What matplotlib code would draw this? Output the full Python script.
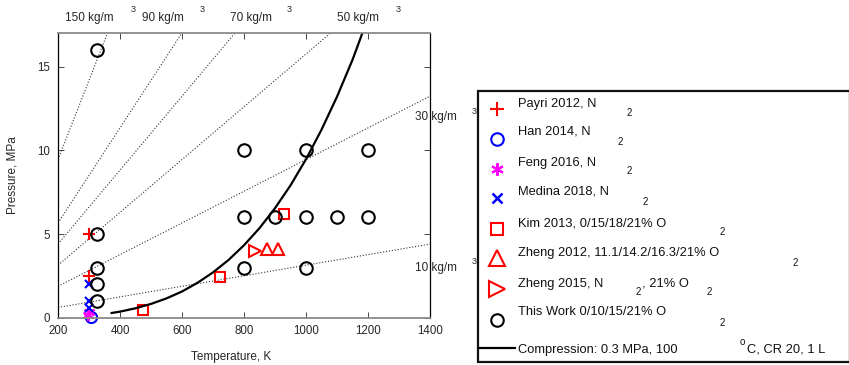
import matplotlib
matplotlib.use("Agg")
import matplotlib.pyplot as plt
from matplotlib.patches import Rectangle

plt.rcParams['font.family'] = ['Liberation Sans', 'DejaVu Sans']

# --- data ---
payri_T = [300, 300]
payri_P = [5.0, 2.5]
han_T = [305]
han_P = [0.05]
feng_T = [298, 300]
feng_P = [0.15, 0.35]
medina_T = [300, 300, 300]
medina_P = [2.0, 1.0, 0.6]
kim_T = [475, 723, 928]
kim_P = [0.5, 2.45, 6.2]
zheng12_T = [873, 910]
zheng12_P = [4.1, 4.1]
zheng15_T = [835]
zheng15_P = [4.0]
work_T = [325, 325, 325, 325, 325, 800, 1000, 1200, 800, 900, 1000, 1100, 1200, 800, 1000]
work_P = [16, 5, 3, 2, 1, 10, 10, 10, 6, 6, 6, 6, 6, 3, 3]

# compression trace (0.3 MPa, 100 C start)
comp_T = [373, 400, 450, 500, 550, 600, 650, 700, 750, 800, 850, 900,
          950, 1000, 1050, 1100, 1150, 1200]
comp_P = [0.30, 0.38, 0.58, 0.84, 1.17, 1.58, 2.10, 2.72, 3.46, 4.34, 5.36, 6.55,
          7.91, 9.47, 11.23, 13.2, 15.4, 17.9]

# iso-density lines, kg/m3
densities = [150, 90, 70, 50, 30, 10]
R_GAS = 0.315e-3  # MPa m3 / (kg K), fitted
T_range = [200, 1400]

W, H = 849, 365
fig = plt.figure(figsize=(W / 100, H / 100), dpi=100)
ax = fig.add_axes([58 / W, 1 - 318 / H, 372 / W, 285 / H])

for rho in densities:
    ax.plot(T_range, [rho * R_GAS * t for t in T_range], ls=':', color='#333333', lw=0.8, zorder=1)

mew = 1.5
ax.plot(payri_T, payri_P, ls='none', marker='+', ms=9, mew=mew, color='red', clip_on=False)
ax.plot(han_T, han_P, ls='none', marker='o', ms=8, mew=mew, mfc='none', mec='blue', clip_on=False)
ax.plot(feng_T, feng_P, ls='none', marker=(6, 2, 0), ms=8, mew=mew, color='magenta', clip_on=False)
ax.plot(medina_T, medina_P, ls='none', marker='x', ms=6, mew=mew, color='blue', clip_on=False)
ax.plot(kim_T, kim_P, ls='none', marker='s', ms=7, mew=mew, mfc='none', mec='red', clip_on=False)
ax.plot(zheng12_T, zheng12_P, ls='none', marker='^', ms=9, mew=mew, mfc='none', mec='red', clip_on=False)
ax.plot(zheng15_T, zheng15_P, ls='none', marker='>', ms=9, mew=mew, mfc='none', mec='red', clip_on=False)
ax.plot(work_T, work_P, ls='none', marker='o', ms=9, mew=mew, mfc='none', mec='black', clip_on=False)
ax.plot(comp_T, comp_P, color='black', lw=1.6)

ax.set_xlim(200, 1400)
ax.set_ylim(0, 17)
ax.set_xticks([200, 400, 600, 800, 1000, 1200, 1400])
ax.set_yticks([0, 5, 10, 15])
ax.tick_params(direction='in', length=4, width=0.6, labelsize=8.3, colors='#262626',
               top=True, right=True)
ax.tick_params(axis='x', pad=5)
ax.tick_params(axis='y', pad=6)
for side in ['left', 'right']:
    ax.spines[side].set_color('black')
    ax.spines[side].set_linewidth(0.9)
for side in ['top', 'bottom']:
    ax.spines[side].set_color('#8a8a8a')
    ax.spines[side].set_linewidth(1.3)
ax.set_xlabel('Temperature, K', fontsize=8.5, color='#262626')
ax.set_ylabel('Pressure, MPa', fontsize=8.5, color='#262626')
ax.xaxis.set_label_coords(0.465, -0.115)
ax.yaxis.set_label_coords(-0.105, 0.5)

# overlay in pixel units for free text and the legend panel
ov = fig.add_axes([0, 0, 1, 1])
ov.set_xlim(0, W)
ov.set_ylim(H, 0)
ov.axis('off')

# density annotations: (text, x, y, superscript x, superscript y)
dens_labels = [
    ('150 kg/m', 89, 18, 133, 10),
    ('90 kg/m', 163, 18, 202, 10),
    ('70 kg/m', 251, 18, 289, 10),
    ('50 kg/m', 358, 18, 398, 10),
]
for txt, x, y, sx, sy in dens_labels:
    ov.text(x, y, txt, ha='center', va='center', fontsize=8.5, color='#262626')
    ov.text(sx, sy, '3', ha='center', va='center', fontsize=6.5, color='#262626')
for txt, y in [('30 kg/m', 117), ('10 kg/m', 268)]:
    ov.text(415, y, txt, ha='left', va='center', fontsize=8.5, color='#262626')
    ov.text(474, y - 6, '3', ha='center', va='center', fontsize=6.5, color='#262626')

# legend panel
ov.add_patch(Rectangle((478, 91), 372, 271, fill=False, lw=1.6, ec='#111111', clip_on=False))

leg_rows = [
    (109, dict(marker='+', ms=10, mew=mew, color='red'),
     [('Payri 2012, N', 518, 104, 9.3), ('2', 627, 113, 7)]),
    (139, dict(marker='o', ms=9, mew=mew, mfc='none', mec='blue'),
     [('Han 2014, N', 518, 132, 9.3), ('2', 618, 142, 7)]),
    (169, dict(marker=(6, 2, 0), ms=9, mew=mew, color='magenta'),
     [('Feng 2016, N', 518, 163, 9.3), ('2', 627, 171, 7)]),
    (198, dict(marker='x', ms=7, mew=mew + 0.3, color='blue'),
     [('Medina 2018, N', 518, 192, 9.3), ('2', 643, 202, 7)]),
    (229, dict(marker='s', ms=8, mew=mew, mfc='none', mec='red'),
     [('Kim 2013, 0/15/18/21% O', 518, 223, 9.3), ('2', 720, 232, 7)]),
    (258, dict(marker='^', ms=11, mew=mew, mfc='none', mec='red'),
     [('Zheng 2012, 11.1/14.2/16.3/21% O', 518, 253, 9.3), ('2', 793, 263, 7)]),
    (289, dict(marker='>', ms=11, mew=mew, mfc='none', mec='red'),
     [('Zheng 2015, N', 518, 284, 9.3), ('2', 636, 292, 7),
      (', 21% O', 642, 284, 9.3), ('2', 707, 292, 7)]),
    (320, dict(marker='o', ms=9, mew=mew, mfc='none', mec='black'),
     [('This Work 0/10/15/21% O', 518, 312, 9.3), ('2', 720, 323, 7)]),
]
for ym, mstyle, texts in leg_rows:
    ov.plot([497], [ym], ls='none', **mstyle)
    for txt, x, y, fs in texts:
        ov.text(x, y, txt, ha='left', va='center', fontsize=fs, color='#111111')

ov.plot([479, 515], [348, 348], color='black', lw=1.6)
ov.text(518, 350, 'Compression: 0.3 MPa, 100', ha='left', va='center', fontsize=9.3, color='#111111')
ov.text(742, 342, 'o', ha='center', va='center', fontsize=7, color='#111111')
ov.text(747, 350, 'C, CR 20, 1 L', ha='left', va='center', fontsize=9.3, color='#111111')

fig.savefig('out.png', dpi=100)
